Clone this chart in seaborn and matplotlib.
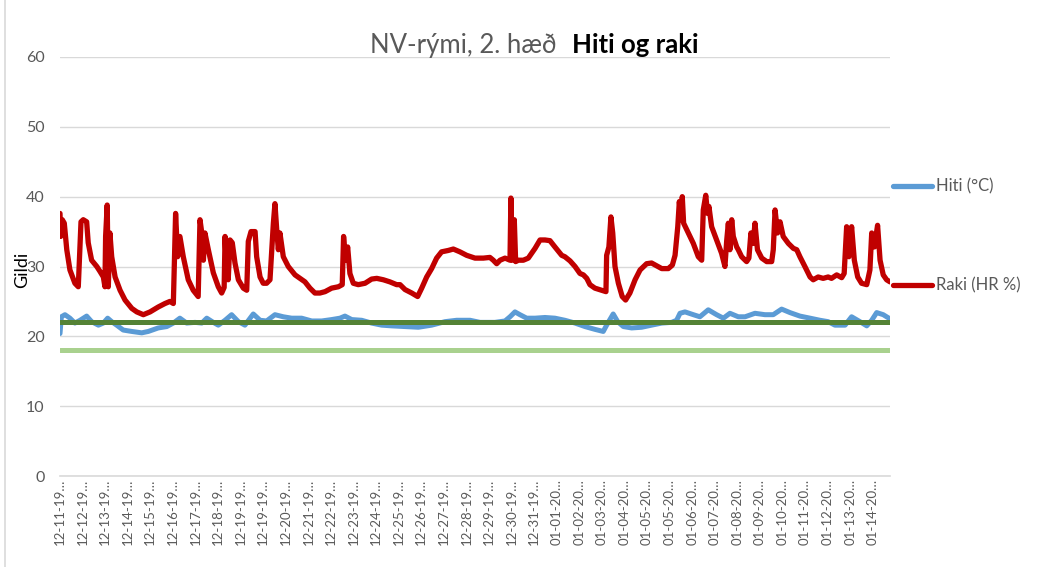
import matplotlib
matplotlib.use("Agg")
import matplotlib.pyplot as plt
import seaborn as sns
import pandas as pd
from matplotlib.lines import Line2D

# ---------------- data ----------------
title_main = "NV-rými, 2. hæð"
title_bold = "Hiti og raki"
y_label = "Gildi"
series_names = ["Hiti (°C)", "Raki (HR %)"]

tick_labels = ["12-11-19…", "12-12-19…", "12-13-19…", "12-14-19…", "12-15-19…",
               "12-16-19…", "12-17-19…", "12-18-19…", "12-19-19…", "12-19-19…",
               "12-20-19…", "12-21-19…", "12-22-19…", "12-23-19…", "12-24-19…",
               "12-25-19…", "12-26-19…", "12-27-19…", "12-28-19…", "12-29-19…",
               "12-30-19…", "12-31-19…", "01-01-20…", "01-02-20…", "01-03-20…",
               "01-04-20…", "01-05-20…", "01-05-20…", "01-06-20…", "01-07-20…",
               "01-08-20…", "01-09-20…", "01-10-20…", "01-11-20…", "01-12-20…",
               "01-13-20…", "01-14-20…"]

# time in label-interval units
raki_t = [0.00, 0.03, 0.10, 0.19, 0.30, 0.44, 0.66, 0.81, 0.93, 1.03, 1.18, 1.25, 1.40,
          1.63, 1.77, 1.92, 1.99, 2.02, 2.09, 2.14, 2.21, 2.29, 2.44, 2.66, 2.88, 3.18,
          3.40, 3.69, 3.99, 4.35, 4.65, 4.87, 5.02, 5.12, 5.21, 5.31, 5.46, 5.68, 5.90,
          6.12, 6.20, 6.28, 6.35, 6.42, 6.57, 6.79, 7.01, 7.16, 7.27, 7.31, 7.38, 7.45,
          7.53, 7.63, 7.75, 7.90, 8.12, 8.27, 8.34, 8.46, 8.64, 8.71, 8.86, 9.00, 9.15,
          9.30, 9.38, 9.45, 9.52, 9.60, 9.67, 9.74, 9.89, 10.11, 10.41, 10.63, 10.85,
          11.07, 11.29, 11.51, 11.74, 12.03, 12.33, 12.50, 12.56, 12.65, 12.74, 12.84,
          12.99, 13.21, 13.51, 13.80, 14.03, 14.32, 14.61, 14.91, 15.06, 15.28, 15.58,
          15.84, 16.02, 16.24, 16.46, 16.68, 16.90, 17.20, 17.42, 17.71, 18.01, 18.38,
          18.75, 19.04, 19.19, 19.34, 19.49, 19.71, 19.93, 19.97, 20.03, 20.12, 20.18,
          20.30, 20.52, 20.74, 21.04, 21.26, 21.48, 21.70, 21.92, 22.22, 22.36, 22.59,
          22.81, 23.03, 23.18, 23.33, 23.47, 23.69, 23.99, 24.18, 24.21, 24.31, 24.40,
          24.48, 24.58, 24.73, 24.90, 25.05, 25.24, 25.47, 25.69, 25.98, 26.20, 26.43,
          26.65, 26.94, 27.12, 27.24, 27.36, 27.43, 27.50, 27.56, 27.62, 27.83, 28.05,
          28.27, 28.42, 28.49, 28.60, 28.68, 28.74, 28.86, 29.08, 29.30, 29.45, 29.53,
          29.60, 29.67, 29.75, 29.82, 29.97, 30.04, 30.19, 30.41, 30.51, 30.60, 30.70,
          30.78, 30.89, 31.08, 31.30, 31.52, 31.59, 31.67, 31.78, 31.89, 32.03, 32.26,
          32.48, 32.63, 32.77, 32.99, 33.22, 33.36, 33.58, 33.80, 34.02, 34.17, 34.40,
          34.62, 34.73, 34.84, 34.94, 35.06, 35.18, 35.33, 35.50, 35.73, 35.87, 35.95,
          36.07, 36.21, 36.32, 36.46, 36.61, 36.76]
raki_v = [37.6, 34.3, 36.7, 36.2, 32.4, 29.5, 27.6, 27.1, 36.4, 36.7, 36.4, 33.4, 30.9,
          30.0, 29.3, 28.5, 27.1, 34.3, 38.8, 27.1, 34.8, 31.4, 28.5, 26.6, 25.2, 24.0,
          23.5, 23.1, 23.5, 24.2, 24.7, 25.0, 24.7, 37.6, 31.4, 34.3, 31.4, 28.1, 26.6,
          25.7, 36.7, 34.8, 30.9, 34.8, 32.4, 29.1, 27.1, 26.2, 27.0, 34.3, 29.1, 28.1,
          33.8, 33.4, 30.5, 28.1, 26.9, 26.6, 33.6, 35.0, 35.0, 31.4, 28.5, 27.6, 27.6,
          28.1, 32.4, 36.2, 39.0, 35.2, 32.4, 34.8, 31.4, 30.0, 28.8, 28.3, 27.8,
          26.9, 26.2, 26.2, 26.4, 26.9, 27.1, 27.4, 34.3, 30.9, 32.8, 29.0,
          27.6, 27.4, 27.6, 28.2, 28.3, 28.1, 27.8, 27.4, 27.4, 26.7, 26.2,
          25.7, 26.9, 28.5, 29.7, 31.2, 32.1, 32.3, 32.5, 32.1, 31.6, 31.2,
          31.2, 31.3, 30.9, 30.4, 30.9, 31.2, 30.9, 39.8, 30.9, 36.7, 30.7,
          30.9, 30.9, 31.2, 32.6, 33.8, 33.8, 33.7, 32.8, 31.6, 31.4, 30.8,
          30.0, 29.0, 28.8, 28.3, 27.4, 26.9, 26.6, 26.4, 31.6, 32.8, 37.1,
          34.8, 30.0, 27.6, 25.7, 25.2, 26.2, 28.1, 29.5, 30.4, 30.5, 30.1,
          29.7, 29.7, 30.2, 31.6, 35.7, 39.3, 36.7, 40.0, 36.2, 34.8, 33.3,
          31.4, 30.9, 38.1, 40.2, 37.6, 38.6, 35.7, 33.8, 31.9, 30.0, 33.8,
          36.2, 32.4, 36.7, 34.3, 32.8, 32.4, 31.4, 30.7, 31.2, 34.8, 33.3,
          36.2, 32.4, 31.2, 30.7, 30.7, 32.4, 38.1, 34.8, 36.4, 34.3, 33.3,
          32.6, 32.4, 31.4, 30.0, 28.5, 28.1, 28.5, 28.3, 28.5, 28.3, 28.8,
          28.4, 29.0, 35.7, 31.4, 35.7, 30.9, 28.5, 27.6, 27.4, 29.5, 34.8,
          32.8, 35.9, 30.9, 28.8, 28.1, 27.8]

hiti_t = [0.00, 0.06, 0.22, 0.44, 0.66, 0.89, 1.18, 1.40, 1.70, 1.92, 2.11, 2.29, 2.51,
          2.80, 3.18, 3.62, 3.91, 4.35, 4.73, 5.02, 5.31, 5.61, 5.98, 6.28, 6.50, 6.79,
          7.01, 7.31, 7.60, 7.90, 8.19, 8.56, 8.86, 9.15, 9.52, 9.89, 10.26, 10.70,
          11.15, 11.59, 12.03, 12.40, 12.62, 12.92, 13.36, 13.80, 14.25, 14.69, 15.28,
          15.87, 16.46, 17.05, 17.57, 18.16, 18.60, 19.26, 19.71, 19.93, 20.15, 20.37,
          20.67, 21.04, 21.48, 21.92, 22.36, 22.81, 23.25, 23.69, 24.06, 24.21, 24.50,
          24.70, 24.95, 25.32, 25.76, 26.20, 26.65, 27.09, 27.31, 27.46, 27.68, 28.05,
          28.34, 28.71, 29.08, 29.38, 29.67, 30.04, 30.34, 30.78, 31.22, 31.59, 31.96,
          32.33, 32.77, 33.22, 33.66, 34.02, 34.32, 34.77, 35.06, 35.43, 35.73, 35.95,
          36.17, 36.46, 36.71]
hiti_v = [20.4, 22.8, 23.1, 22.6, 21.9, 22.3, 22.9, 22.1, 21.6, 21.9, 22.6, 22.1, 21.6,
          20.9, 20.7, 20.5, 20.7, 21.2, 21.4, 21.9, 22.6, 21.9, 22.0, 21.9, 22.6, 22.0,
          21.6, 22.3, 23.1, 22.1, 21.6, 23.2, 22.3, 22.2, 23.1, 22.8, 22.6, 22.6,
          22.2, 22.2, 22.4, 22.6, 22.9, 22.4, 22.3, 21.9, 21.6, 21.5, 21.4,
          21.3, 21.6, 22.1, 22.3, 22.3, 22.0, 22.0, 22.2, 22.8, 23.5, 23.1,
          22.6, 22.6, 22.7, 22.6, 22.3, 21.9, 21.4, 21.0, 20.7, 21.6, 23.2,
          22.1, 21.4, 21.2, 21.3, 21.6, 21.9, 22.0, 22.3, 23.3, 23.5, 23.1,
          22.8, 23.8, 23.1, 22.6, 23.3, 22.8, 22.8, 23.3, 23.1, 23.1, 23.9,
          23.4, 22.9, 22.6, 22.3, 22.1, 21.6, 21.6, 22.8, 22.1, 21.5, 22.3,
          23.4, 23.1, 22.6]

ref_levels = [22, 18]
y_ticks = [0, 10, 20, 30, 40, 50, 60]

# ---------------- plotting ----------------
sns.set_theme(style="white")
plt.rcParams["font.family"] = ["Lato", "DejaVu Sans"]

W, H = 1050, 567
fig = plt.figure(figsize=(W / 100, H / 100), dpi=100)
ax_l, ax_r, ax_t, ax_b = 60, 890, 57, 476
ax = fig.add_axes([ax_l / W, 1 - ax_b / H, (ax_r - ax_l) / W, (ax_b - ax_t) / H])

df = pd.concat([
    pd.DataFrame({"t": hiti_t, "v": hiti_v, "s": series_names[0]}),
    pd.DataFrame({"t": raki_t, "v": raki_v, "s": series_names[1]}),
])

ref_colors = ["#548235", "#a9d18e"]
for lvl, c in zip(ref_levels, ref_colors):
    ax.axhline(lvl, color=c, lw=3.6, zorder=3)

sns.lineplot(data=df[df.s == series_names[1]], x="t", y="v", color="#c00000",
             lw=3.8, estimator=None, sort=False, ax=ax, legend=False, zorder=4)
sns.lineplot(data=df[df.s == series_names[0]], x="t", y="v", color="#5b9bd5",
             lw=3.6, estimator=None, sort=False, ax=ax, legend=False, zorder=2)

ax.set_ylim(0, 60)
ax.set_xlim(0, raki_t[-1])
ax.set_yticks(y_ticks)
ax.yaxis.grid(True, color="#d9d9d9", lw=1)
ax.set_axisbelow(True)
for sp in ["left", "right", "top"]:
    ax.spines[sp].set_visible(False)
ax.spines["bottom"].set_color("#d9d9d9")
ax.spines["bottom"].set_linewidth(1.2)

ax.set_xticks(list(range(len(tick_labels))))
ax.set_xticklabels(tick_labels, rotation=90, fontsize=9.5, color="#595959")
ax.tick_params(axis="x", length=0, pad=2)
ax.tick_params(axis="y", length=0, pad=11, labelsize=11.5, labelcolor="#595959")
ax.set_xlabel("")
ax.set_ylabel("")

fig.text(22 / W, 1 - 270 / H, y_label, rotation=90, ha="center", va="center",
         fontsize=13, color="black")

fig.text(557 / W, 1 - 45 / H, title_main, ha="right", va="center",
         fontsize=18.5, color="#595959")
fig.text(572 / W, 1 - 45 / H, title_bold, ha="left", va="center",
         fontsize=18.5, color="black", fontweight="bold")

# legend on the right
leg_items = [(series_names[0], "#5b9bd5", 186), (series_names[1], "#c00000", 285)]
for name, col, yy in leg_items:
    fig.add_artist(Line2D([893 / W, 932 / W], [1 - yy / H, 1 - yy / H],
                          color=col, lw=3.8, solid_capstyle="round"))
    fig.text(936 / W, 1 - yy / H, name, ha="left", va="center",
             fontsize=12, color="#595959")

# chart border (left)
fig.add_artist(Line2D([5 / W, 5 / W], [0, 1], color="#d9d9d9", lw=1.2))

fig.savefig("out.png", dpi=100)
